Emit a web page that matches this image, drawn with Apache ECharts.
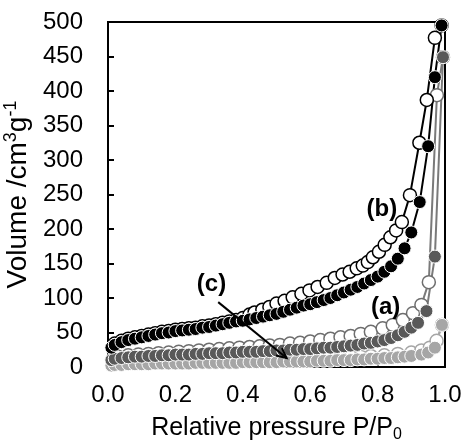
<!DOCTYPE html>
<html>
<head>
<meta charset="utf-8">
<script src="https://cdn.jsdelivr.net/npm/echarts@6/dist/echarts.min.js"></script>
<style>
  html, body { margin: 0; padding: 0; background: #fff; }
  #chart { width: 462px; height: 445px; }
</style>
</head>
<body>
<div id="chart"></div>
<script>
// x tick values
var xTicks = [0, 0.2, 0.4, 0.6, 0.8, 1.0]

// (b) adsorption (filled black)
var bAdsP = [0.01,0.02,0.04,0.06,0.08,0.10,0.12,0.14,0.16,0.18,0.20,0.22,0.24,0.26,0.28,0.30,0.32,0.34,0.36,0.38,0.40,0.42,0.44,0.46,0.48,0.50,0.52,0.54,0.56,0.58,0.60,0.62,0.64,0.66,0.68,0.70,0.72,0.74,0.76,0.78,0.80,0.82,0.84,0.86,0.88,0.90,0.925,0.95,0.97,0.99]
var bAdsV = [28,32,36,39,41,43,45,47,49,50,52,53,54,55,57,58,60,62,64,66,67,69,71,73,75,77,80,83,86,89,91,94,97,100,104,108,112,116,121,126,131,138,146,157,172,195,239,320,420,495]
// (b) desorption (open), listed by rising P
var bDesP = [0.02,0.04,0.06,0.08,0.10,0.12,0.14,0.16,0.18,0.20,0.22,0.24,0.26,0.28,0.30,0.32,0.34,0.36,0.38,0.40,0.42,0.435,0.458,0.479,0.50,0.524,0.548,0.574,0.598,0.622,0.649,0.673,0.696,0.717,0.738,0.756,0.771,0.786,0.804,0.821,0.838,0.855,0.872,0.896,0.924,0.946,0.97,0.99]
var bDesV = [34,38,41,43,45,47,49,51,52,54,55,56,57,59,60,62,64,66,68,71,76,79,83,87,92,96,101,106,111,116,122,129,134,138,143,147,152,159,167,177,188,198,210,249,325,387,477,495]

// (a) adsorption (filled dark grey)
var aAdsP = [0.01,0.02,0.04,0.06,0.08,0.10,0.12,0.14,0.16,0.18,0.20,0.22,0.24,0.26,0.28,0.30,0.32,0.34,0.36,0.38,0.40,0.42,0.44,0.46,0.48,0.50,0.52,0.54,0.56,0.58,0.60,0.62,0.64,0.66,0.68,0.70,0.72,0.74,0.76,0.78,0.80,0.82,0.84,0.86,0.88,0.90,0.92,0.945,0.97,0.994]
var aAdsV = [10,12,13,14,15,15,16,16,17,17,18,18,18,19,19,20,20,20,21,21,22,22,22,23,23,24,24,25,25,26,26,27,28,28,29,30,31,32,34,35,37,39,42,46,51,57,64,81,160,449]
// (a) desorption (open)
var aDesP = [0.03,0.06,0.09,0.12,0.15,0.18,0.21,0.24,0.27,0.30,0.33,0.36,0.39,0.42,0.45,0.48,0.51,0.54,0.57,0.60,0.63,0.66,0.69,0.72,0.75,0.78,0.815,0.845,0.875,0.905,0.93,0.952,0.976,0.994]
var aDesV = [15,17,18,19,20,21,22,23,24,25,26,27,28,29,30,31,32,34,35,37,39,41,43,45,48,51,56,61,68,78,90,123,394,449]

// (c) adsorption (filled light grey)
var cAdsP = [0.01,0.02,0.04,0.06,0.08,0.10,0.12,0.14,0.16,0.18,0.20,0.22,0.24,0.26,0.28,0.30,0.32,0.34,0.36,0.38,0.40,0.42,0.44,0.46,0.48,0.50,0.52,0.54,0.56,0.58,0.60,0.62,0.64,0.66,0.68,0.70,0.72,0.74,0.76,0.78,0.80,0.82,0.84,0.86,0.88,0.90,0.93,0.95,0.97,0.991]
var cAdsV = [2,3,3,4,4,4,4,5,5,5,5,5,5,6,6,6,6,6,6,6,7,7,7,7,7,7,8,8,8,8,8,9,9,9,10,10,10,11,11,12,12,13,13,14,15,16,18,21,28,61]
// (c) desorption (open)
var cDesP = [0.03,0.06,0.09,0.12,0.15,0.18,0.21,0.24,0.27,0.30,0.33,0.36,0.39,0.42,0.45,0.48,0.51,0.54,0.57,0.60,0.63,0.66,0.69,0.72,0.75,0.78,0.82,0.86,0.90,0.93,0.955,0.975,0.991]
var cDesV = [6,7,7,8,8,8,9,9,9,10,10,10,10,11,11,11,12,12,12,13,13,14,14,15,15,16,17,19,21,24,28,38,61]

var FONT = 'Liberation Sans, Arial, sans-serif'

function pairs(p, v) {
  return p.map(function (x, i) { return [x, v[i]] })
}

function curve(p, v, fill, edge, lineColor, bw) {
  return {
    type: 'line',
    data: pairs(p, v),
    symbol: 'circle',
    symbolSize: 13,
    showAllSymbol: true,
    animation: false,
    silent: true,
    lineStyle: { color: lineColor, width: 2 },
    itemStyle: { color: fill, borderColor: edge, borderWidth: bw, opacity: 1 },
    emphasis: { disabled: true }
  }
}

var myChart = echarts.init(document.getElementById('chart'))

myChart.setOption({
  backgroundColor: '#fff',
  animation: false,
  grid: {
    left: 108, right: 17, top: 22, bottom: 78,
    outerBoundsMode: 'none', containLabel: false,
    show: true, borderColor: '#000', borderWidth: 2
  },
  xAxis: {
    type: 'value', min: 0, max: 1, interval: 0.2,
    name: 'Relative pressure P/P{sub|0}',
    nameLocation: 'middle', nameGap: 46,
    nameTextStyle: {
      color: '#000', fontSize: 25, fontFamily: FONT,
      rich: { sub: { fontSize: 16, fontFamily: FONT, color: '#000', padding: [14, 0, 0, 0] } }
    },
    splitLine: { show: false },
    axisLine: { lineStyle: { color: '#000', width: 2 } },
    axisTick: { inside: true, length: 6, lineStyle: { color: '#000', width: 2 } },
    axisLabel: {
      margin: 16, color: '#000', fontSize: 24, fontFamily: FONT,
      formatter: function (v) { return v.toFixed(1) }
    }
  },
  yAxis: {
    type: 'value', min: 0, max: 500, interval: 50,
    name: 'Volume /cm{sup|3}g{sup|-1}',
    nameLocation: 'middle', nameGap: 70,
    nameTextStyle: {
      color: '#000', fontSize: 28, fontFamily: FONT,
      rich: { sup: { fontSize: 18, fontFamily: FONT, color: '#000', padding: [0, 0, 14, 0] } }
    },
    splitLine: { show: false },
    axisLine: { lineStyle: { color: '#000', width: 2 } },
    axisTick: { inside: true, length: 6, lineStyle: { color: '#000', width: 2 } },
    axisLabel: { margin: 25, color: '#000', fontSize: 24, fontFamily: FONT }
  },
  series: [
    curve(cDesP, cDesV, '#fff', '#a6a6a6', '#a6a6a6', 1.5),
    curve(cAdsP, cAdsV, '#a6a6a6', '#fff', '#a6a6a6', 1),
    curve(aDesP, aDesV, '#fff', '#6e6e6e', '#7a7a7a', 1.5),
    curve(aAdsP, aAdsV, '#595959', '#fff', '#7a7a7a', 1),
    curve(bDesP, bDesV, '#fff', '#000', '#000', 1.5),
    curve(bAdsP, bAdsV, '#000', '#fff', '#000', 1)
  ]
})

// labels and arrow, placed in data coordinates
function px(p, v) { return myChart.convertToPixel({ gridIndex: 0 }, [p, v]) }
var lblB = px(0.8125, 228), lblA = px(0.824, 87), lblC = px(0.307, 120)
var arrS = px(0.327, 94), arrE = px(0.53, 13)
var ang = Math.atan2(arrE[1] - arrS[1], arrE[0] - arrS[0])
var hl = 11, hw = 0.45
var h1 = [arrE[0] - hl * Math.cos(ang - hw), arrE[1] - hl * Math.sin(ang - hw)]
var h2 = [arrE[0] - hl * Math.cos(ang + hw), arrE[1] - hl * Math.sin(ang + hw)]
function lbl(pos, t) {
  return { type: 'text', x: pos[0], y: pos[1], z: 100,
    style: { text: t, fill: '#000', font: 'bold 24px ' + FONT, align: 'center', verticalAlign: 'middle' } }
}
myChart.setOption({
  graphic: [
    lbl(lblB, '(b)'), lbl(lblA, '(a)'), lbl(lblC, '(c)'),
    { type: 'line', z: 100, shape: { x1: arrS[0], y1: arrS[1], x2: arrE[0], y2: arrE[1] }, style: { stroke: '#000', lineWidth: 2 } },
    { type: 'polyline', z: 100, shape: { points: [h1, arrE, h2] }, style: { stroke: '#000', lineWidth: 2, fill: null } }
  ]
})
</script>
</body>
</html>
